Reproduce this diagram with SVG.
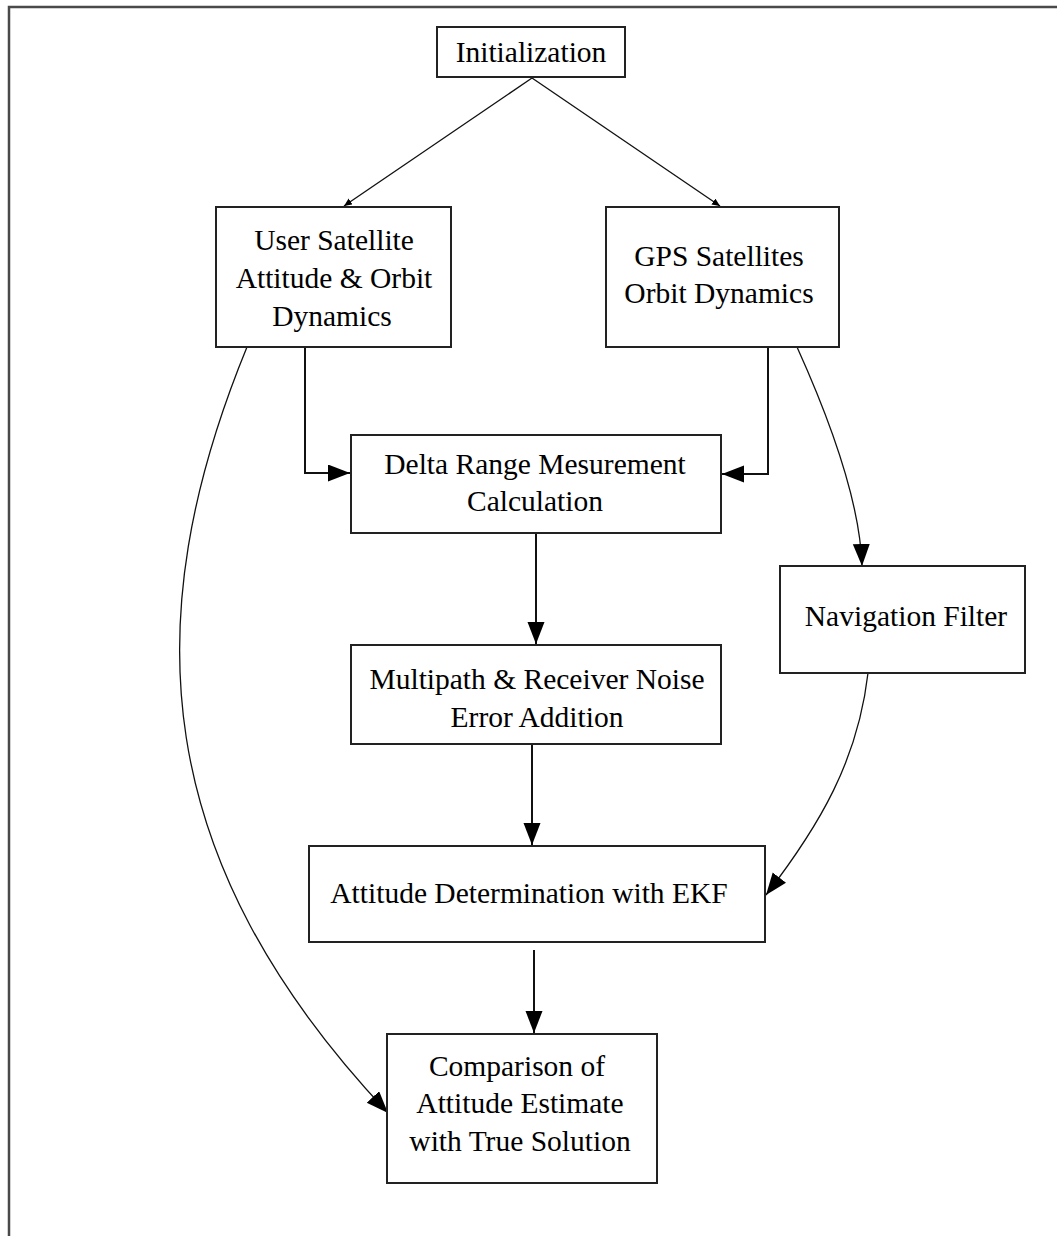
<svg xmlns="http://www.w3.org/2000/svg" width="1057" height="1236" viewBox="0 0 1057 1236">
  <style>
    .frame { fill: none; stroke: #4a4a4a; stroke-width: 2.5; }
    .box { fill: #ffffff; stroke: #222222; stroke-width: 2; }
    .label { font-family: "Liberation Serif", "Times New Roman", serif; font-size: 29.5px; fill: #000000; text-anchor: middle; }
    .elbow { fill: none; stroke: #111111; stroke-width: 2; }
    .thin { fill: none; stroke: #111111; stroke-width: 1.3; }
  </style>
  <defs>
    <marker id="arrow" markerUnits="userSpaceOnUse" markerWidth="24" markerHeight="18" refX="22" refY="8.5" orient="auto">
      <path d="M0,0 L22,8.5 L0,17 Z" fill="#000000"/>
    </marker>
    <marker id="tip" markerUnits="userSpaceOnUse" markerWidth="10" markerHeight="8" refX="8" refY="3.5" orient="auto">
      <path d="M0,0 L8,3.5 L0,7 Z" fill="#000000"/>
    </marker>
  </defs>

  <rect width="1057" height="1236" fill="#ffffff"/>

  <!-- page frame: only top and left edges fall inside the page -->
  <path class="frame" d="M9,1236 L9,7 L1057,7"/>

  <!-- connectors -->
  <g id="connectors">
    <path class="thin" d="M532,78 L344,206" marker-end="url(#tip)"/>
    <path class="thin" d="M532,78 L720,206" marker-end="url(#tip)"/>
    <path class="elbow" d="M305,347 L305,473 L350,473" marker-end="url(#arrow)"/>
    <path class="elbow" d="M768,347 L768,474 L722,474" marker-end="url(#arrow)"/>
    <path class="elbow" d="M536,533 L536,644" marker-end="url(#arrow)"/>
    <path class="elbow" d="M532,744 L532,845" marker-end="url(#arrow)"/>
    <path class="elbow" d="M534,950 L534,1033" marker-end="url(#arrow)"/>
    <path class="thin" d="M797,347 C830,420 860,500 862,566" marker-end="url(#arrow)"/>
    <path class="thin" d="M868,673 C858,760 820,825 766,895" marker-end="url(#arrow)"/>
    <path class="thin" d="M247,347 C135,620 150,860 388,1113" marker-end="url(#arrow)"/>
  </g>

  <g id="init">
    <rect class="box" x="437" y="27" width="188" height="50"/>
    <text class="label" x="531" y="62">Initialization</text>
  </g>

  <g id="user-satellite">
    <rect class="box" x="216" y="207" width="235" height="140"/>
    <text class="label" x="334" y="250">User Satellite</text>
    <text class="label" x="334" y="288">Attitude &amp; Orbit</text>
    <text class="label" x="332" y="326">Dynamics</text>
  </g>

  <g id="gps-satellites">
    <rect class="box" x="606" y="207" width="233" height="140"/>
    <text class="label" x="719" y="266">GPS Satellites</text>
    <text class="label" x="719" y="303">Orbit Dynamics</text>
  </g>

  <g id="delta-range">
    <rect class="box" x="351" y="435" width="370" height="98"/>
    <text class="label" x="535" y="474">Delta Range Mesurement</text>
    <text class="label" x="535" y="511">Calculation</text>
  </g>

  <g id="navigation-filter">
    <rect class="box" x="780" y="566" width="245" height="107"/>
    <text class="label" x="906" y="626">Navigation Filter</text>
  </g>

  <g id="multipath">
    <rect class="box" x="351" y="645" width="370" height="99"/>
    <text class="label" x="537" y="689">Multipath &amp; Receiver Noise</text>
    <text class="label" x="537" y="727">Error Addition</text>
  </g>

  <g id="attitude-ekf">
    <rect class="box" x="309" y="846" width="456" height="96"/>
    <text class="label" x="529" y="903">Attitude Determination with EKF</text>
  </g>

  <g id="comparison">
    <rect class="box" x="387" y="1034" width="270" height="149"/>
    <text class="label" x="517" y="1076">Comparison of</text>
    <text class="label" x="520" y="1113">Attitude Estimate</text>
    <text class="label" x="520" y="1151">with True Solution</text>
  </g>
</svg>
